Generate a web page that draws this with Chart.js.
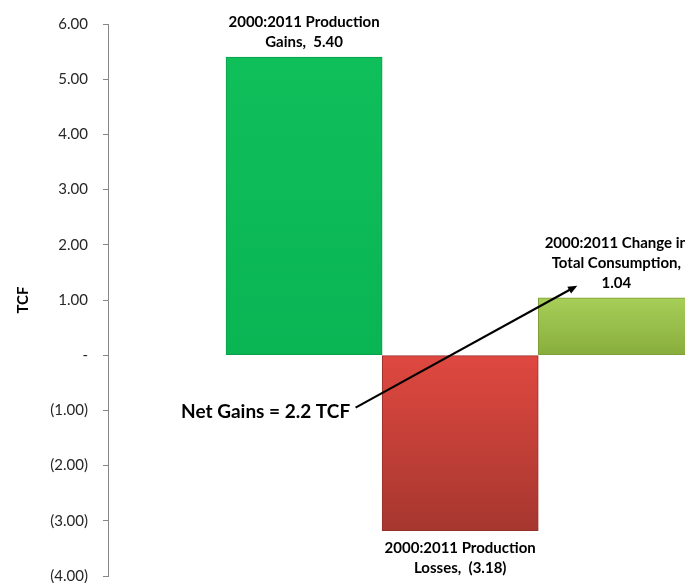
<!DOCTYPE html>
<html>
<head>
<meta charset="utf-8">
<script src="https://cdn.jsdelivr.net/npm/chart.js@4.4.0/dist/chart.umd.min.js"></script>
<style>
  html, body { margin: 0; padding: 0; background: #fff; overflow: hidden; }
  #wrap { width: 685px; height: 583px; overflow: hidden; }
</style>
</head>
<body>
<div id="wrap"><canvas id="c" width="685" height="600"></canvas></div>
<script>
// 資料
const categories = ['2000:2011 Production Gains', '2000:2011 Production Losses', '2000:2011 Change in Total Consumption'];
const positions = [1, 2, 3];
const values = [5.40, -3.18, 1.04];
const labelLines = [
  ['2000:2011 Production', 'Gains,  5.40'],
  ['2000:2011 Production', 'Losses,  (3.18)'],
  ['2000:2011 Change in', 'Total Consumption,', '1.04']
];
const yTicks = [6, 5, 4, 3, 2, 1, 0, -1, -2, -3, -4];
const yTitle = 'TCF';

// 註解 (資料座標)
const noteText = 'Net Gains = 2.2 TCF';
const noteAt = { x: 1.295, y: -1.02 };
const arrowFrom = { x: 1.33, y: -0.95 };
const arrowTo = { x: 2.75, y: 1.26 };

const FONT = 'Lato, "Open Sans", sans-serif';

const barColors = [
  ['#0fbf5a', '#0ab554', '#0a9f48'],
  ['#df4840', '#a6372f', '#963029'],
  ['#a7ce59', '#88ad3c', '#7c9e36']
];

function fmt(v) {
  if (v === 0) return '-';
  const s = Math.abs(v).toFixed(2);
  return v < 0 ? '(' + s + ')' : s;
}

// 漸層填色
function barFill(ctx) {
  const chart = ctx.chart;
  const { chartArea, scales } = chart;
  if (!chartArea || ctx.dataIndex == null) return barColors[0][0];
  const v = values[ctx.dataIndex];
  const top = scales.y.getPixelForValue(Math.max(v, 0));
  const bottom = scales.y.getPixelForValue(Math.min(v, 0));
  const g = chart.ctx.createLinearGradient(0, top, 0, bottom);
  const c = barColors[ctx.dataIndex];
  g.addColorStop(0, c[0]);
  g.addColorStop(1, c[1]);
  return g;
}

// 柱狀標籤 + 箭頭
const annotatePlugin = {
  id: 'annotate',
  afterDatasetsDraw(chart) {
    const ctx = chart.ctx;
    const xs = chart.scales.x, ys = chart.scales.y;
    const meta = chart.getDatasetMeta(0);
    ctx.save();
    ctx.fillStyle = '#000';
    ctx.font = 'bold 15px ' + FONT;
    ctx.textAlign = 'center';
    ctx.textBaseline = 'middle';
    const lh = 20;
    meta.data.forEach((bar, i) => {
      const lines = labelLines[i];
      const v = values[i];
      if (v >= 0) {
        const last = bar.y - 15;
        lines.forEach((t, k) => ctx.fillText(t, bar.x, last - (lines.length - 1 - k) * lh));
      } else {
        const first = bar.y + 17;
        lines.forEach((t, k) => ctx.fillText(t, bar.x, first + k * lh));
      }
    });

    // Net Gains
    ctx.font = 'bold 19px ' + FONT;
    ctx.textAlign = 'right';
    ctx.fillText(noteText, xs.getPixelForValue(noteAt.x), ys.getPixelForValue(noteAt.y));

    const x1 = xs.getPixelForValue(arrowFrom.x), y1 = ys.getPixelForValue(arrowFrom.y);
    const x2 = xs.getPixelForValue(arrowTo.x), y2 = ys.getPixelForValue(arrowTo.y);
    const ang = Math.atan2(y2 - y1, x2 - x1);
    const head = 10;
    ctx.strokeStyle = '#000';
    ctx.lineWidth = 2.2;
    ctx.beginPath();
    ctx.moveTo(x1, y1);
    ctx.lineTo(x2 - Math.cos(ang) * head * 0.8, y2 - Math.sin(ang) * head * 0.8);
    ctx.stroke();
    ctx.beginPath();
    ctx.moveTo(x2, y2);
    ctx.lineTo(x2 - head * Math.cos(ang - 0.4), y2 - head * Math.sin(ang - 0.4));
    ctx.lineTo(x2 - head * Math.cos(ang + 0.4), y2 - head * Math.sin(ang + 0.4));
    ctx.closePath();
    ctx.fill();
    ctx.restore();
  }
};

new Chart(document.getElementById('c'), {
  type: 'bar',
  data: {
    labels: categories,
    datasets: [{
      label: 'TCF',
      data: positions.map((p, i) => ({ x: p, y: values[i] })),
      backgroundColor: barFill,
      borderColor: ctx => barColors[ctx.dataIndex || 0][2],
      borderWidth: 1,
      borderSkipped: false,
      categoryPercentage: 1,
      barPercentage: 1
    }]
  },
  options: {
    responsive: false,
    animation: false,
    layout: { padding: { top: 18.5, bottom: 21, left: 0, right: 0 } },
    plugins: {
      legend: { display: false },
      tooltip: { enabled: false }
    },
    scales: {
      x: {
        type: 'linear',
        display: false,
        offset: false,
        min: -0.256,
        max: 3.44,
        afterBuildTicks: scale => { scale.ticks = positions.map(v => ({ value: v })); }
      },
      y: {
        min: -4,
        max: 6,
        afterBuildTicks: scale => { scale.ticks = yTicks.map(v => ({ value: v })); },
        afterFit: scale => { scale.width = 108; },
        ticks: {
          color: '#262626',
          font: { family: FONT, size: 15 },
          padding: 15,
          callback: v => fmt(v)
        },
        grid: { drawOnChartArea: false, drawTicks: true, tickLength: 5, color: '#868686' },
        border: { display: true, color: '#868686', width: 1 },
        title: {
          display: true,
          text: yTitle,
          color: '#000',
          font: { family: FONT, size: 15, weight: 'bold' },
          padding: { top: 14, bottom: 0 }
        }
      }
    }
  },
  plugins: [annotatePlugin]
});
</script>
</body>
</html>
